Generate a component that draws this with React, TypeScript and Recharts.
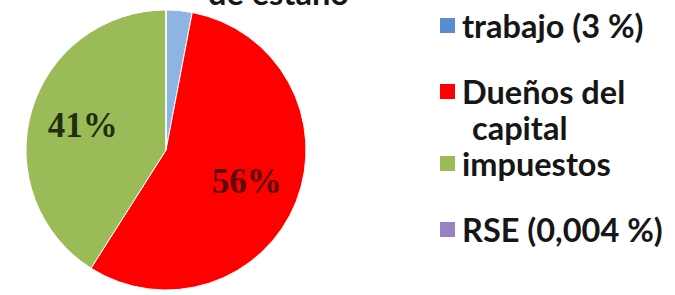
import { Cell, Legend, Pie, PieChart } from "recharts";

const categories = ["trabajo (3 %)", "Dueños del capital", "impuestos", "RSE (0,004 %)"];
const shares = [3, 56, 41, 0.004];
const sliceLabels = ["", "56%", "41%", ""];
const sliceColors = ["#8db4e2", "#ff0000", "#9bbb59", "#8064a2"];
const legendColors = ["#5b8bd4", "#ff0000", "#9bbb59", "#9783c2"];
const labelColors = ["#1f2f0f", "#5a0b0b", "#1f2f0f", "#1f2f0f"];

const data = categories.map((name, i) => ({ name, value: shares[i] }));

const RADIAN = Math.PI / 180;

function renderLabel(props: any) {
  const { cx, cy, midAngle, outerRadius, index } = props;
  const text = sliceLabels[index];
  if (!text) return null;
  const r = outerRadius * 0.62;
  const x = cx + r * Math.cos(-midAngle * RADIAN);
  const y = cy + r * Math.sin(-midAngle * RADIAN);
  return (
    <text
      x={x}
      y={y}
      fill={labelColors[index]}
      textAnchor="middle"
      dominantBaseline="central"
      fontFamily="'Liberation Serif', serif"
      fontWeight={700}
      fontSize={35}
    >
      {text}
    </text>
  );
}

function LegendBox() {
  return (
    <div style={{ fontFamily: "Lato, sans-serif", fontWeight: 700, color: "#161616" }}>
      {categories.map((name, i) => (
        <div key={name} style={{ display: "flex", alignItems: "flex-start", minHeight: 66 }}>
          <span
            style={{
              width: 15,
              height: 15,
              marginTop: 10,
              marginRight: 7,
              background: legendColors[i],
              flex: "none"
            }}
          />
          <span
            style={{
              width: 210,
              fontSize: 32.5,
              lineHeight: "36px",
              paddingLeft: 10,
              textIndent: -10
            }}
          >
            {name}
          </span>
        </div>
      ))}
    </div>
  );
}

export default function App() {
  return (
    <div
      style={{
        position: "absolute",
        left: 0,
        top: 0,
        width: 675,
        height: 295,
        overflow: "hidden",
        background: "#fff"
      }}
    >
      <div
        style={{
          position: "absolute",
          left: 208,
          top: -23.5,
          fontFamily: "Lato, sans-serif",
          fontWeight: 700,
          fontSize: 32.5,
          lineHeight: "32.5px",
          color: "#161616",
          whiteSpace: "nowrap"
        }}
      >
        de estaño
      </div>
      <PieChart width={675} height={295} margin={{ top: 0, right: 0, bottom: 0, left: 0 }}>
        <Pie
          data={data}
          dataKey="value"
          nameKey="name"
          cx={166}
          cy={150}
          outerRadius={140}
          startAngle={90}
          endAngle={-270}
          stroke="#ffffff"
          strokeWidth={1}
          label={renderLabel}
          labelLine={false}
          isAnimationActive={false}
        >
          {data.map((d, i) => (
            <Cell key={d.name} fill={sliceColors[i]} />
          ))}
        </Pie>
        <Legend
          content={<LegendBox />}
          layout="vertical"
          verticalAlign="top"
          align="right"
          wrapperStyle={{ position: "absolute", left: 440, top: 8, width: 235 }}
        />
      </PieChart>
    </div>
  );
}
